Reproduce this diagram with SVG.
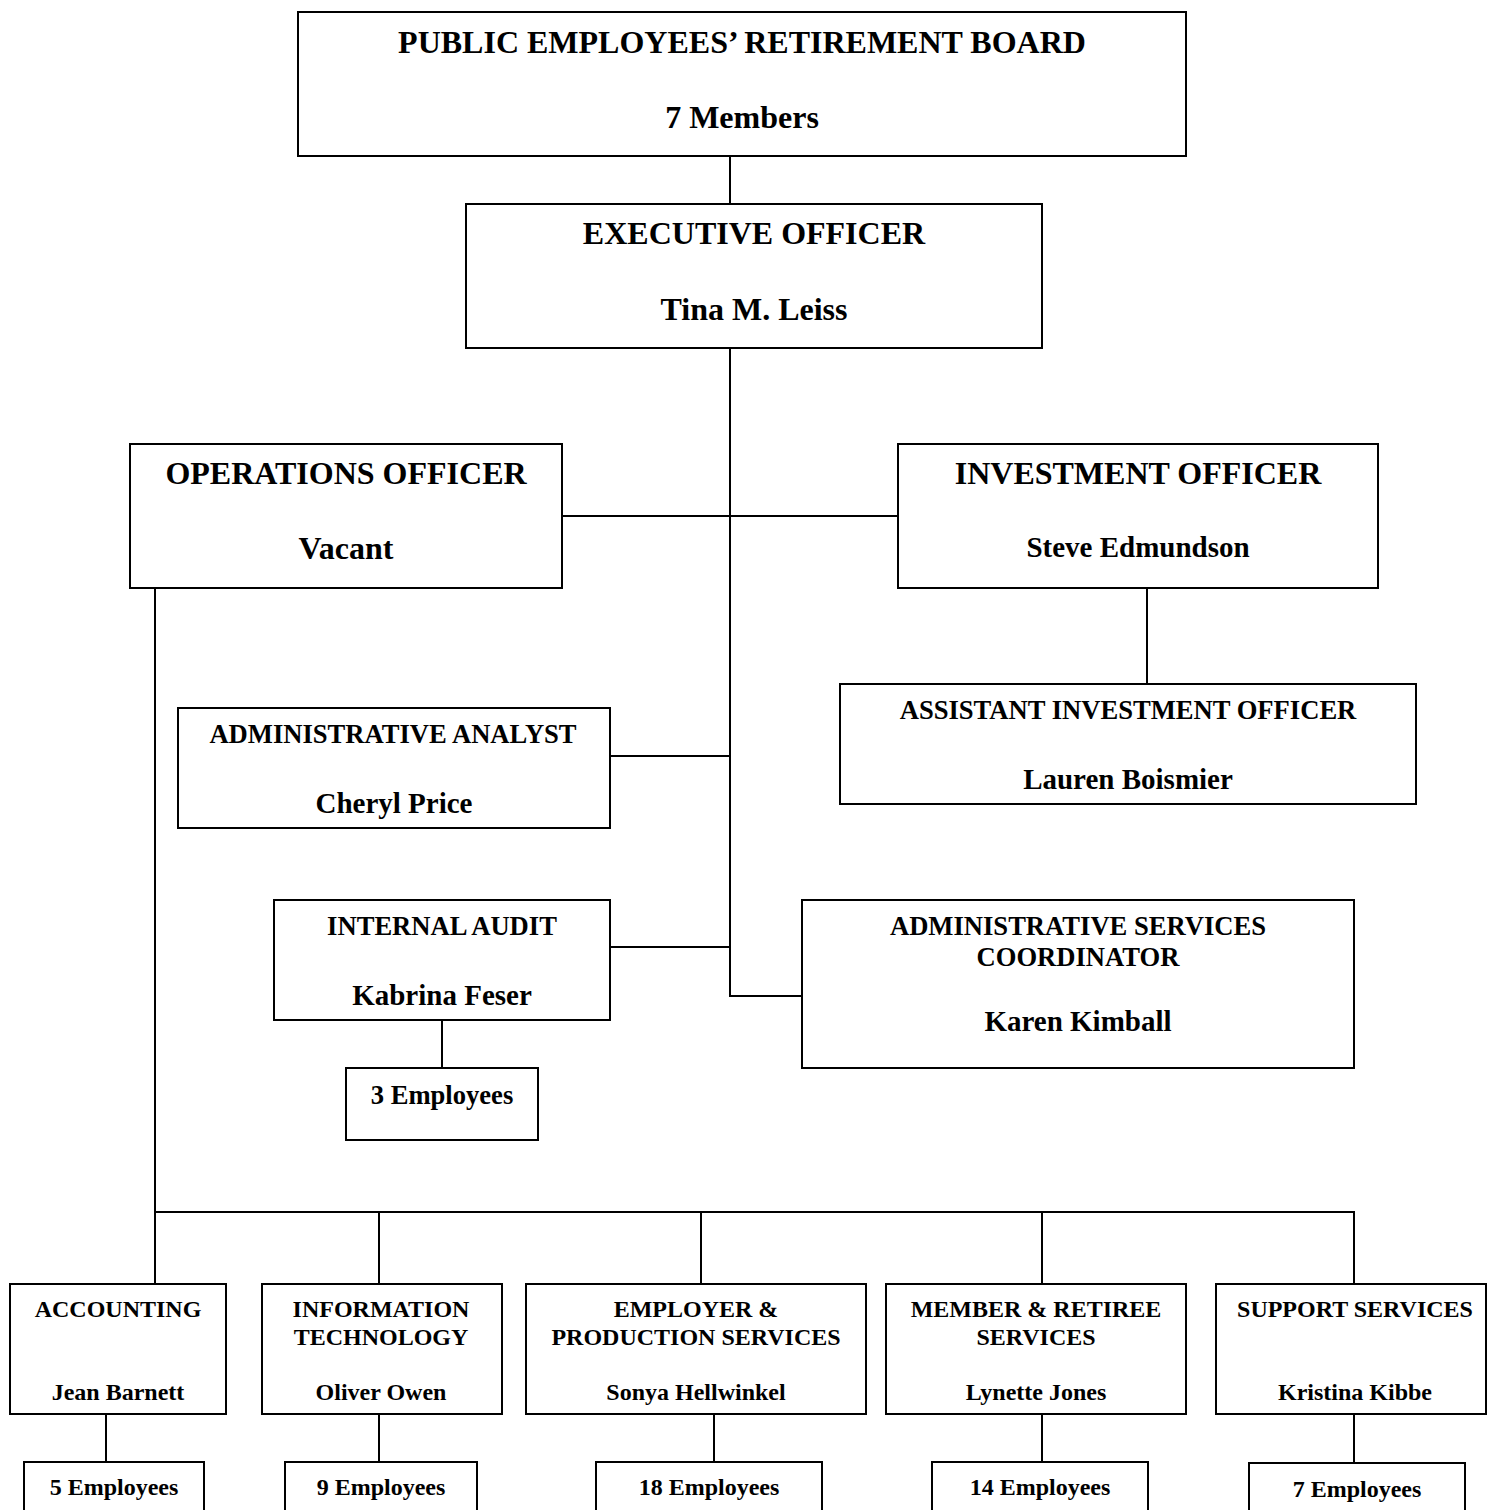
<svg xmlns="http://www.w3.org/2000/svg" width="1487" height="1510" viewBox="0 0 1487 1510">
<style>
rect{fill:#fff;stroke:#000;stroke-width:2}
.c line{stroke:#000;stroke-width:2}
text{font-family:"Liberation Serif","Times New Roman",serif;font-weight:bold;fill:#000;text-anchor:middle}
.l{font-size:32px}
.t{font-size:26.6px}
.n{font-size:29px}
.s{font-size:24px}
</style>
<rect x="0" y="0" width="1487" height="1510" style="stroke:none"/>
<g class="c">
<line x1="730" y1="156" x2="730" y2="204"/>
<line x1="730" y1="348" x2="730" y2="997"/>
<line x1="562" y1="516" x2="898" y2="516"/>
<line x1="1147" y1="588" x2="1147" y2="684"/>
<line x1="610" y1="756" x2="730" y2="756"/>
<line x1="610" y1="947" x2="730" y2="947"/>
<line x1="729" y1="996" x2="802" y2="996"/>
<line x1="442" y1="1020" x2="442" y2="1068"/>
<line x1="155" y1="588" x2="155" y2="1284"/>
<line x1="154" y1="1212" x2="1355" y2="1212"/>
<line x1="379" y1="1212" x2="379" y2="1284"/>
<line x1="701" y1="1212" x2="701" y2="1284"/>
<line x1="1042" y1="1212" x2="1042" y2="1284"/>
<line x1="1354" y1="1212" x2="1354" y2="1284"/>
<line x1="106" y1="1414" x2="106" y2="1462"/>
<line x1="379" y1="1414" x2="379" y2="1462"/>
<line x1="714" y1="1414" x2="714" y2="1462"/>
<line x1="1042" y1="1414" x2="1042" y2="1462"/>
<line x1="1354" y1="1414" x2="1354" y2="1462"/>
</g>
<g id="board"><rect x="298" y="12" width="888" height="144"/><text class="l" x="742" y="53">PUBLIC EMPLOYEES’ RETIREMENT BOARD</text><text class="l" x="742" y="128">7 Members</text></g>
<g id="exec"><rect x="466" y="204" width="576" height="144"/><text class="l" x="754" y="244">EXECUTIVE OFFICER</text><text class="l" x="754" y="320">Tina M. Leiss</text></g>
<g id="ops"><rect x="130" y="444" width="432" height="144"/><text class="l" x="346" y="484">OPERATIONS OFFICER</text><text class="l" x="346" y="559">Vacant</text></g>
<g id="invest"><rect x="898" y="444" width="480" height="144"/><text class="l" x="1138" y="484">INVESTMENT OFFICER</text><text class="n" x="1138" y="557">Steve Edmundson</text></g>
<g id="asstinvest"><rect x="840" y="684" width="576" height="120"/><text class="t" x="1128" y="719">ASSISTANT INVESTMENT OFFICER</text><text class="n" x="1128" y="789">Lauren Boismier</text></g>
<g id="analyst"><rect x="178" y="708" width="432" height="120"/><text class="t" x="393" y="743">ADMINISTRATIVE ANALYST</text><text class="n" x="394" y="813">Cheryl Price</text></g>
<g id="audit"><rect x="274" y="900" width="336" height="120"/><text class="t" x="442" y="935">INTERNAL AUDIT</text><text class="n" x="442" y="1005">Kabrina Feser</text></g>
<g id="audit-emp"><rect x="346" y="1068" width="192" height="72"/><text class="t" x="442" y="1104">3 Employees</text></g>
<g id="adminsvc"><rect x="802" y="900" width="552" height="168"/><text class="t" x="1078" y="935">ADMINISTRATIVE SERVICES</text><text class="t" x="1078" y="966">COORDINATOR</text><text class="n" x="1078" y="1031">Karen Kimball</text></g>
<g id="accounting"><rect x="10" y="1284" width="216" height="130"/><text class="s" x="118" y="1317">ACCOUNTING</text><text class="s" x="118" y="1400">Jean Barnett</text></g>
<g id="it"><rect x="262" y="1284" width="240" height="130"/><text class="s" x="381" y="1317">INFORMATION</text><text class="s" x="381" y="1345">TECHNOLOGY</text><text class="s" x="381" y="1400">Oliver Owen</text></g>
<g id="employer"><rect x="526" y="1284" width="340" height="130"/><text class="s" x="696" y="1317">EMPLOYER &amp;</text><text class="s" x="696" y="1345">PRODUCTION SERVICES</text><text class="s" x="696" y="1400">Sonya Hellwinkel</text></g>
<g id="member"><rect x="886" y="1284" width="300" height="130"/><text class="s" x="1036" y="1317">MEMBER &amp; RETIREE</text><text class="s" x="1036" y="1345">SERVICES</text><text class="s" x="1036" y="1400">Lynette Jones</text></g>
<g id="support"><rect x="1216" y="1284" width="270" height="130"/><text class="s" x="1355" y="1317">SUPPORT SERVICES</text><text class="s" x="1355" y="1400">Kristina Kibbe</text></g>
<g id="acc-emp"><rect x="24" y="1462" width="180" height="70"/><text class="s" x="114" y="1495">5 Employees</text></g>
<g id="it-emp"><rect x="285" y="1462" width="192" height="70"/><text class="s" x="381" y="1495">9 Employees</text></g>
<g id="employer-emp"><rect x="596" y="1462" width="226" height="70"/><text class="s" x="709" y="1495">18 Employees</text></g>
<g id="member-emp"><rect x="932" y="1462" width="216" height="70"/><text class="s" x="1040" y="1495">14 Employees</text></g>
<g id="support-emp"><rect x="1249" y="1463" width="216" height="70"/><text class="s" x="1357" y="1497">7 Employees</text></g>
</svg>
